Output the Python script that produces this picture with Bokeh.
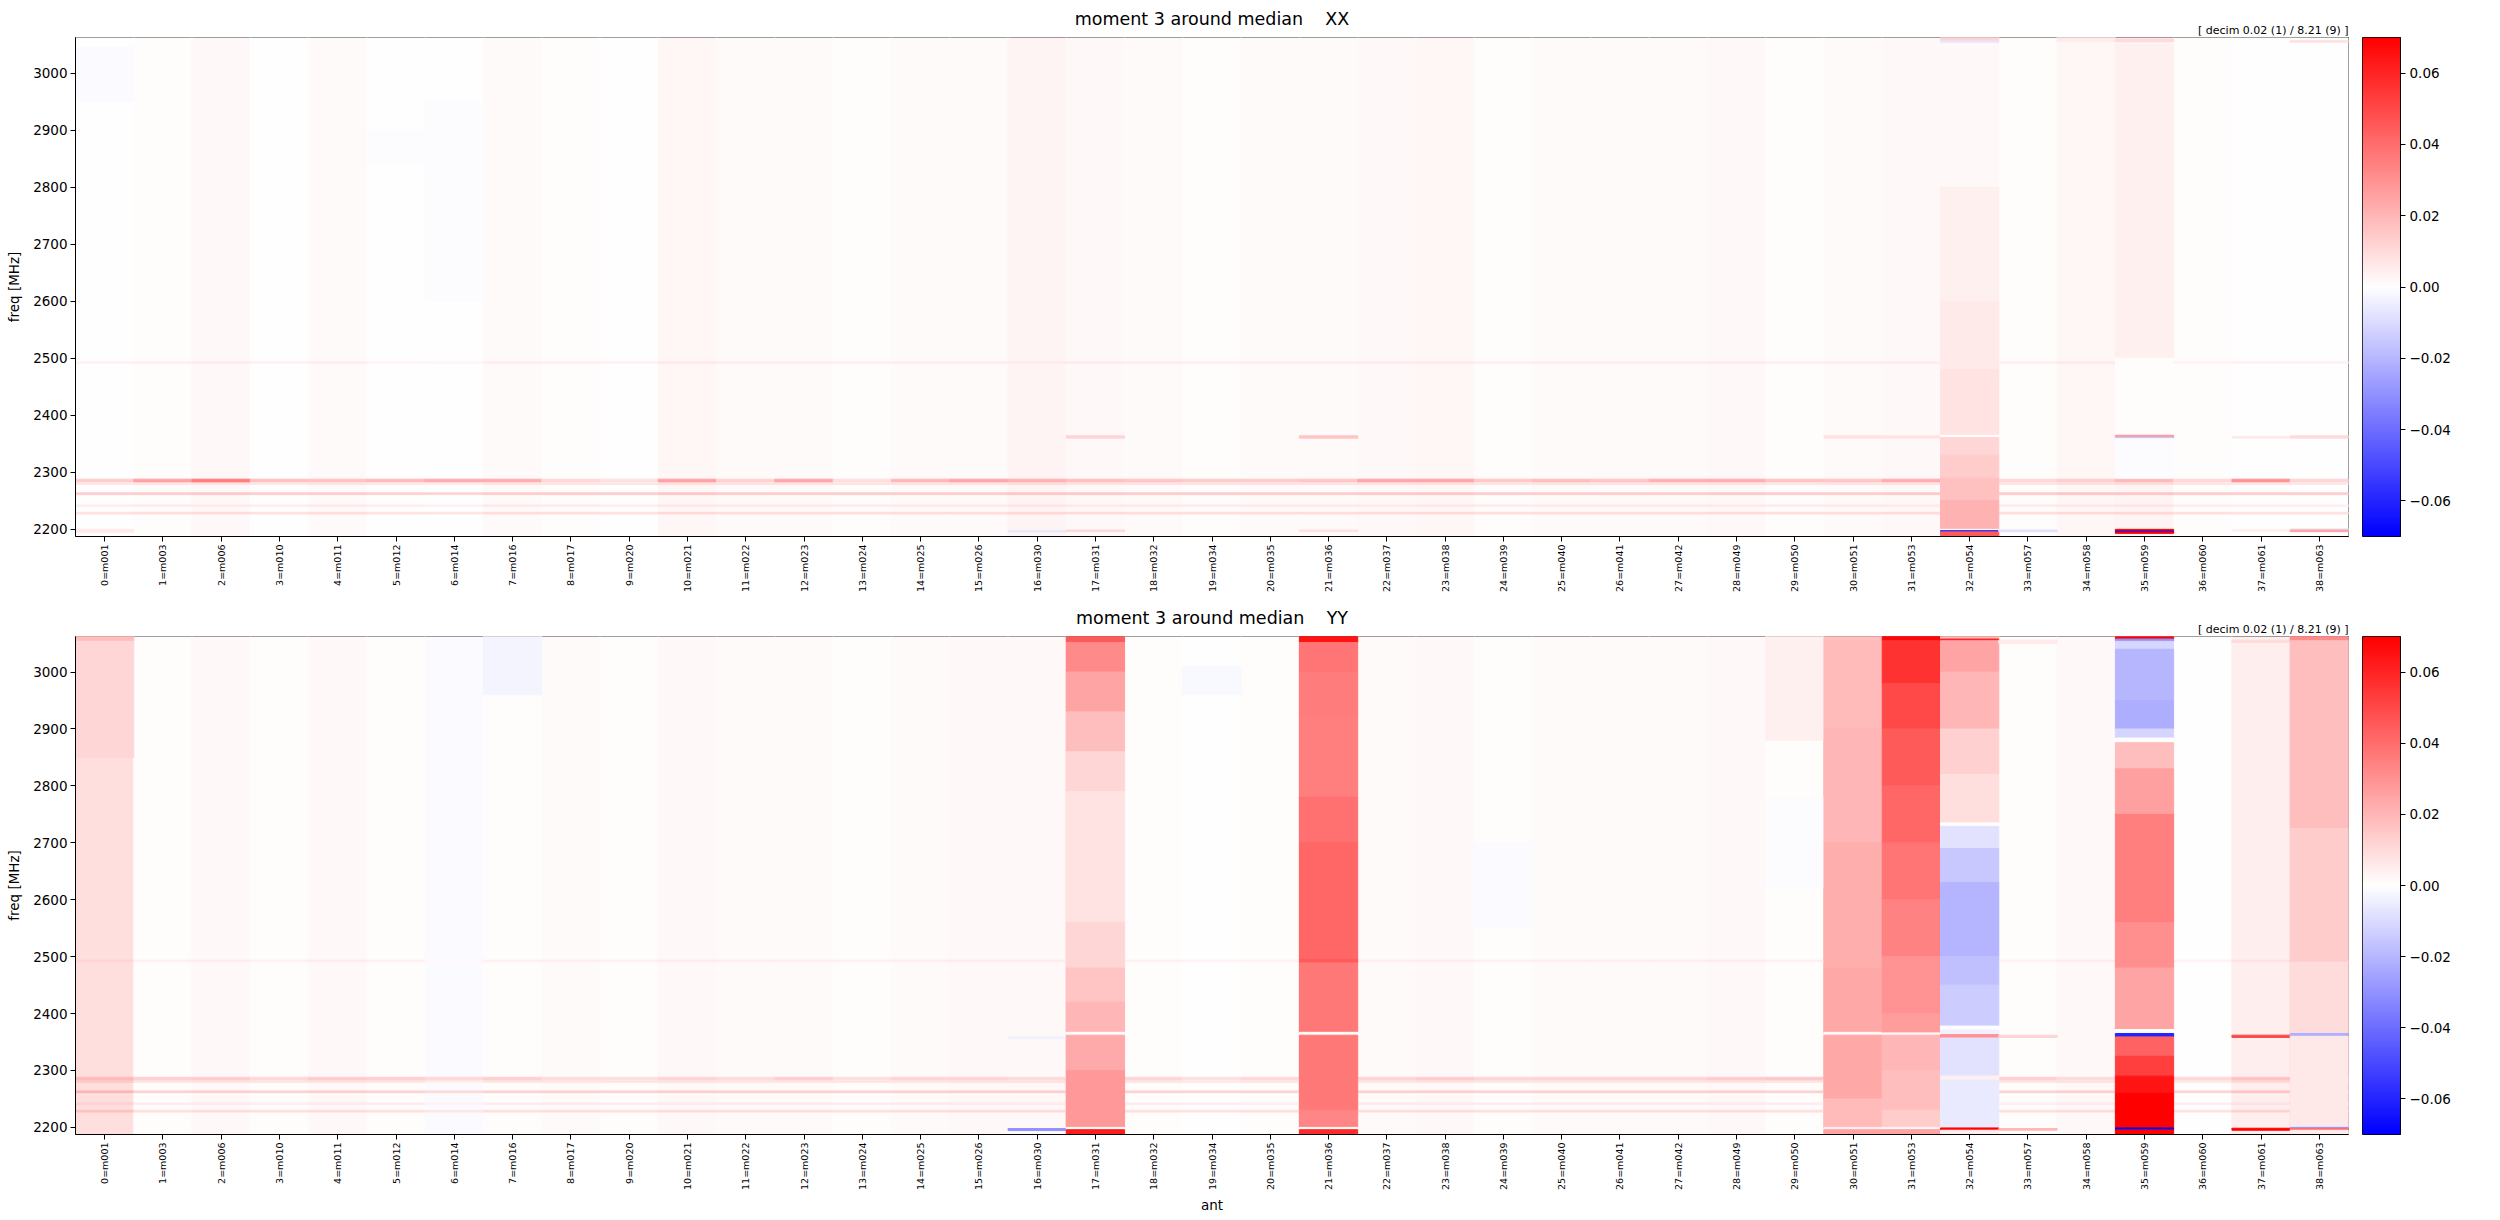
import numpy as np
from bokeh.plotting import figure
from bokeh.models import (LinearColorMapper, ColumnDataSource, FixedTicker, Title,
                          CustomJSTickFormatter, Range1d)
from bokeh.layouts import row, column
from bokeh.transform import transform
from bokeh.embed import file_html
from bokeh.resources import INLINE

# ---------------- data ----------------
ANTS = ["0=m001", "1=m003", "2=m006", "3=m010", "4=m011", "5=m012", "6=m014", "7=m016",
        "8=m017", "9=m020", "10=m021", "11=m022", "12=m023", "13=m024", "14=m025",
        "15=m026", "16=m030", "17=m031", "18=m032", "19=m034", "20=m035", "21=m036",
        "22=m037", "23=m038", "24=m039", "25=m040", "26=m041", "27=m042", "28=m049",
        "29=m050", "30=m051", "31=m053", "32=m054", "33=m057", "34=m058", "35=m059",
        "36=m060", "37=m061", "38=m063"]
F_LO, F_HI = 2187.5, 3062.5
FREQ_TICKS = [2200, 2300, 2400, 2500, 2600, 2700, 2800, 2900, 3000]
CBAR_TICKS = [-0.06, -0.04, -0.02, 0.0, 0.02, 0.04, 0.06]
VMIN, VMAX = -0.07, 0.07
NB = "\u00a0"
TITLES = ["moment 3 around median" + NB * 4 + "XX", "moment 3 around median" + NB * 4 + "YY"]
DECIM_TEXT = "[ decim 0.02 (1) / 8.21 (9) ]"

# whole-band level per antenna
XX_BASE = [0.0005, 0.001, 0.002, 0.0005, 0.0015, 0.0, -0.0005, 0.0015, 0.001, 0.0005,
           0.0025, 0.0015, 0.0015, 0.001, 0.0015, 0.0015, 0.003, 0.002, 0.0015, 0.001,
           0.0015, 0.0015, 0.002, 0.0025, 0.001, 0.0015, 0.0015, 0.0015, 0.002, 0.001,
           0.0015, 0.002, 0.003, 0.001, 0.0025, 0.003, 0.0008, 0.0005, 0.0003]
YY_BASE = [0.009, 0.001, 0.002, 0.0008, 0.002, 0.001, -0.0012, 0.001, 0.0015, 0.001,
           0.002, 0.0015, 0.0015, 0.001, 0.0015, 0.002, 0.002, 0.02, 0.001, 0.0005,
           0.0008, 0.04, 0.0015, 0.002, 0.001, 0.0015, 0.0015, 0.0015, 0.002, 0.001,
           0.02, 0.03, 0.0, 0.0008, 0.002, 0.0, 0.0005, 0.0047, 0.012]

# strong RFI band near 2284 MHz, extra level per antenna (None = not drawn)
RFI_MAIN_BAND = (2283.0, 2288.0)
XX_RFI_MAIN = [0.0137, 0.0247, 0.034, 0.0165, 0.015, 0.019, 0.023, 0.0206, 0.0096, 0.008,
               0.023, 0.011, 0.023, 0.008, 0.018, 0.023, 0.018, 0.015, 0.014, 0.013,
               0.013, 0.014, 0.022, 0.022, 0.014, 0.016, 0.014, 0.02, 0.02, 0.015,
               0.014, 0.02, None, 0.0096, 0.011, 0.016, 0.0096, 0.029, 0.011]
YY_RFI_MAIN = [0.01, 0.012, 0.012, 0.01, 0.012, 0.012, 0.012, 0.012, 0.008, 0.008,
               0.01, 0.008, 0.012, 0.008, 0.01, 0.01, 0.008, None, 0.01, 0.008,
               0.01, None, 0.01, 0.012, 0.01, 0.01, 0.01, 0.01, 0.012, 0.014,
               None, None, None, 0.012, 0.008, None, 0.01, 0.012, 0.01]

# weaker RFI bands common to all antennas: (f_lo, f_hi, extra level)
XX_LINES = [(2279, 2281, 0.007), (2261, 2264, 0.013), (2240, 2243, 0.004),
            (2227, 2230, 0.008), (2491, 2494, 0.003)]
YY_LINES = [(2279, 2281, 0.006), (2261, 2264, 0.012), (2240, 2243, 0.004),
            (2227, 2230, 0.008), (2491, 2494, 0.003)]

# per-antenna frequency segments: (antenna, f_lo, f_hi, value)
XX_PATCHES = [
    (0, 2950, 3045, -0.0015), (0, 2195, 2200, 0.006),
    (5, 2840, 2900, -0.001), (6, 2600, 2950, -0.0008),
    (16, 2195, 2198, -0.006),
    (17, 2360, 2364, 0.012), (17, 2196, 2199, 0.01),
    (21, 2360, 2364, 0.016), (21, 2196, 2199, 0.008),
    (30, 2360, 2364, 0.008), (31, 2360, 2364, 0.008),
    (32, 3056, 3062.5, 0.012), (32, 3052, 3056, -0.006), (32, 2800, 3052, 0.002),
    (32, 2600, 2800, 0.004), (32, 2480, 2600, 0.006), (32, 2365, 2480, 0.008),
    (32, 2361, 2365, 0.0), (32, 2330, 2361, 0.011), (32, 2290, 2330, 0.014),
    (32, 2250, 2290, 0.017), (32, 2200, 2250, 0.021), (32, 2198, 2200, 0.0),
    (32, 2195.5, 2198, -0.055), (32, 2187.5, 2195.5, 0.045),
    (33, 2196, 2199, -0.008),
    (34, 3056, 3062.5, 0.006),
    (35, 3055, 3060, 0.01), (35, 2500, 3050, 0.004), (35, 2366, 2500, 0.001),
    (35, 2361.5, 2365, 0.028), (35, 2359, 2361.5, -0.015), (35, 2290, 2359, -0.0008),
    (35, 2197, 2200, 0.07), (35, 2195, 2197, -0.065), (35, 2193, 2195, 0.07),
    (37, 2360, 2363, 0.006), (37, 2197, 2200, 0.004),
    (38, 3054, 3057, 0.008), (38, 2360, 2364, 0.01),
    (38, 2199, 2201, -0.006), (38, 2196, 2199, 0.025),
]
YY_PATCHES = [
    (0, 3054, 3062.5, 0.018), (0, 2850, 3054, 0.011),
    (7, 2960, 3062.5, -0.003),
    (16, 2194.5, 2198, -0.03), (16, 2356, 2359, -0.004),
    (17, 3052, 3062.5, 0.045), (17, 3000, 3052, 0.032), (17, 2930, 3000, 0.025),
    (17, 2860, 2930, 0.018), (17, 2790, 2860, 0.011), (17, 2560, 2790, 0.008),
    (17, 2480, 2560, 0.011), (17, 2420, 2480, 0.016), (17, 2367, 2420, 0.02),
    (17, 2362, 2367, 0.0), (17, 2300, 2362, 0.023), (17, 2200, 2300, 0.028),
    (17, 2196, 2200, 0.0), (17, 2187.5, 2196, 0.062),
    (19, 2960, 3010, -0.002),
    (21, 3052, 3062.5, 0.065), (21, 3000, 3052, 0.038), (21, 2920, 3000, 0.036),
    (21, 2780, 2920, 0.035), (21, 2700, 2780, 0.039), (21, 2495, 2700, 0.042),
    (21, 2489, 2495, 0.045), (21, 2367, 2489, 0.037), (21, 2362, 2367, 0.0),
    (21, 2230, 2362, 0.037), (21, 2200, 2230, 0.033), (21, 2196, 2200, 0.0),
    (21, 2187.5, 2196, 0.058),
    (24, 2550, 2700, -0.0015),
    (29, 2880, 3062.5, 0.004), (29, 2620, 2780, -0.001),
    (30, 3055, 3062.5, 0.017), (30, 2900, 3055, 0.019), (30, 2700, 2900, 0.02),
    (30, 2480, 2700, 0.022), (30, 2367, 2480, 0.024), (30, 2362, 2367, 0.002),
    (30, 2250, 2362, 0.024), (30, 2200, 2250, 0.019), (30, 2196, 2200, 0.004),
    (30, 2187.5, 2196, 0.025),
    (31, 3055, 3062.5, 0.068), (31, 2980, 3055, 0.056), (31, 2900, 2980, 0.05),
    (31, 2800, 2900, 0.045), (31, 2700, 2800, 0.042), (31, 2600, 2700, 0.038),
    (31, 2500, 2600, 0.034), (31, 2400, 2500, 0.03), (31, 2366, 2400, 0.027),
    (31, 2362, 2366, 0.002), (31, 2300, 2362, 0.02), (31, 2230, 2300, 0.018),
    (31, 2200, 2230, 0.014), (31, 2196, 2200, 0.003), (31, 2187.5, 2196, 0.025),
    (32, 3058, 3062.5, 0.02), (32, 3055, 3058, 0.06), (32, 3000, 3055, 0.025),
    (32, 2900, 3000, 0.02), (32, 2820, 2900, 0.013), (32, 2735, 2820, 0.009),
    (32, 2729, 2735, 0.0), (32, 2690, 2729, -0.008), (32, 2630, 2690, -0.015),
    (32, 2500, 2630, -0.0206), (32, 2450, 2500, -0.017), (32, 2378, 2450, -0.0137),
    (32, 2371, 2378, 0.0), (32, 2363, 2371, -0.004), (32, 2357, 2363, 0.03),
    (32, 2290, 2357, -0.008), (32, 2283, 2290, 0.004), (32, 2199, 2283, -0.006),
    (32, 2195, 2199, 0.07), (32, 2187.5, 2195, 0.005),
    (33, 3050, 3056, 0.006), (33, 2358, 2362, 0.012), (33, 2195, 2198, 0.02),
    (35, 3058, 3062.5, 0.07), (35, 3054, 3058, -0.03), (35, 3040, 3054, -0.011),
    (35, 2950, 3040, -0.02), (35, 2900, 2950, -0.022), (35, 2884, 2900, -0.012),
    (35, 2876, 2884, 0.0), (35, 2830, 2876, 0.018), (35, 2750, 2830, 0.026),
    (35, 2560, 2750, 0.035), (35, 2480, 2560, 0.031), (35, 2372, 2480, 0.025),
    (35, 2365, 2372, 0.0), (35, 2359, 2365, -0.06), (35, 2325, 2359, 0.043),
    (35, 2290, 2325, 0.053), (35, 2260, 2290, 0.064), (35, 2199, 2260, 0.07),
    (35, 2195.5, 2199, -0.07), (35, 2187.5, 2195.5, 0.07),
    (37, 3052, 3056, 0.01), (37, 2358, 2362, 0.05), (37, 2195, 2198.5, 0.07),
    (38, 3055, 3062.5, 0.032), (38, 2725, 3055, 0.018), (38, 2490, 2725, 0.0137),
    (38, 2365, 2490, 0.0096), (38, 2360, 2365, -0.022), (38, 2200, 2360, 0.0063),
    (38, 2198, 2200, -0.03), (38, 2195, 2198, 0.04), (38, 2187.5, 2195, 0.005),
]

# ---------------- style ----------------
FONT = "DejaVu Sans"


def bwr_palette(n=256):
    cols = []
    for i in range(n):
        t = i / (n - 1)
        if t < 0.5:
            r = g = 2 * t
            b = 1.0
        else:
            r = 1.0
            g = b = 2 * (1 - t)
        cols.append("#%02x%02x%02x" % (round(r * 255), round(g * 255), round(b * 255)))
    return cols


MAPPER = LinearColorMapper(palette=bwr_palette(), low=VMIN, high=VMAX)


def build_source(base, rfi_main, lines, patches):
    L, R, B, T, V = [], [], [], [], []

    def add(a, lo, hi, v):
        L.append(a - 0.5); R.append(a + 0.5); B.append(lo); T.append(hi); V.append(v)

    for a, v in enumerate(base):
        add(a, F_LO, F_HI, v)
    for a, v in enumerate(rfi_main):
        if v is None:
            continue
        add(a, RFI_MAIN_BAND[0], RFI_MAIN_BAND[1], base[a] + v)
        for lo, hi, lv in lines:
            add(a, lo, hi, base[a] + lv)
    for a, lo, hi, v in patches:
        add(a, lo, hi, v)
    return ColumnDataSource(dict(left=L, right=R, bottom=B, top=T, v=V))


def style_axis(ax, label_size):
    ax.axis_line_color = "black"
    ax.major_tick_line_color = "black"
    ax.minor_tick_line_color = None
    ax.major_tick_out = 5
    ax.major_tick_in = 0
    ax.major_label_text_font = FONT
    ax.major_label_text_font_size = label_size
    ax.major_label_text_color = "black"
    ax.axis_label_text_font = FONT
    ax.axis_label_text_font_size = "13.5px"
    ax.axis_label_text_font_style = "normal"
    ax.axis_label_text_color = "black"


def heat_fig(title, src, height, b_top, b_bottom, xlabel):
    p = figure(width=2353, height=height, x_range=Range1d(-0.5, 38.5),
               y_range=Range1d(F_LO, F_HI), output_backend="svg", toolbar_location=None,
               min_border_left=75, min_border_right=5, min_border_top=b_top,
               min_border_bottom=b_bottom)
    p.quad(left="left", right="right", bottom="bottom", top="top", source=src,
           fill_color=transform("v", MAPPER), line_color=transform("v", MAPPER),
           line_width=1)
    # small right-aligned annotation, closest to the frame
    p.add_layout(Title(text=DECIM_TEXT, align="right", text_font=FONT,
                       text_font_size="11px", text_font_style="normal",
                       text_color="black", standoff=2), "above")
    # main centered title
    p.add_layout(Title(text=title, align="center", text_font=FONT,
                       text_font_size="17.5px", text_font_style="normal",
                       text_color="black", standoff=-17, offset=6), "above")
    p.xgrid.visible = False
    p.ygrid.visible = False
    p.outline_line_color = "black"
    p.outline_line_alpha = 1
    p.background_fill_color = "white"
    p.xaxis.ticker = FixedTicker(ticks=list(range(len(ANTS))))
    p.xaxis.major_label_overrides = {i: n for i, n in enumerate(ANTS)}
    p.xaxis.major_label_orientation = np.pi / 2
    p.xaxis.major_label_standoff = 3
    style_axis(p.xaxis[0], "9.5px")
    if xlabel:
        p.xaxis.axis_label = xlabel
        p.xaxis.axis_label_standoff = 4
    p.yaxis.ticker = FixedTicker(ticks=FREQ_TICKS)
    p.yaxis.axis_label = "freq [MHz]"
    p.yaxis.axis_label_standoff = 8
    p.yaxis.major_label_standoff = 3
    style_axis(p.yaxis[0], "13.5px")
    return p


def cbar_fig(height, b_top, b_bottom):
    c = figure(width=107, height=height, x_range=Range1d(0, 1),
               y_range=Range1d(VMIN, VMAX), output_backend="svg", toolbar_location=None,
               min_border_left=9, min_border_right=60, min_border_top=b_top,
               min_border_bottom=b_bottom, y_axis_location="right")
    grad = np.linspace(VMIN, VMAX, 256).reshape(256, 1)
    c.image(image=[grad], x=0, y=VMIN, dw=1, dh=VMAX - VMIN, color_mapper=MAPPER)
    c.xaxis.visible = False
    c.xgrid.visible = False
    c.ygrid.visible = False
    c.outline_line_color = "black"
    c.outline_line_alpha = 1
    c.yaxis.ticker = FixedTicker(ticks=CBAR_TICKS)
    c.yaxis.formatter = CustomJSTickFormatter(
        code="return (tick < -1e-9 ? '\u2212' : '') + Math.abs(tick).toFixed(2);")
    c.yaxis.major_label_standoff = 4
    style_axis(c.yaxis[0], "13.5px")
    return c


src_xx = build_source(XX_BASE, XX_RFI_MAIN, XX_LINES, XX_PATCHES)
src_yy = build_source(YY_BASE, YY_RFI_MAIN, YY_LINES, YY_PATCHES)

p1 = heat_fig(TITLES[0], src_xx, 600, 37, 64, None)
c1 = cbar_fig(600, 37, 64)
p2 = heat_fig(TITLES[1], src_yy, 615, 36, 80, "ant")
c2 = cbar_fig(615, 36, 80)

layout = column(row(p1, c1), row(p2, c2))
open("out.html", "w").write(file_html(layout, INLINE))
